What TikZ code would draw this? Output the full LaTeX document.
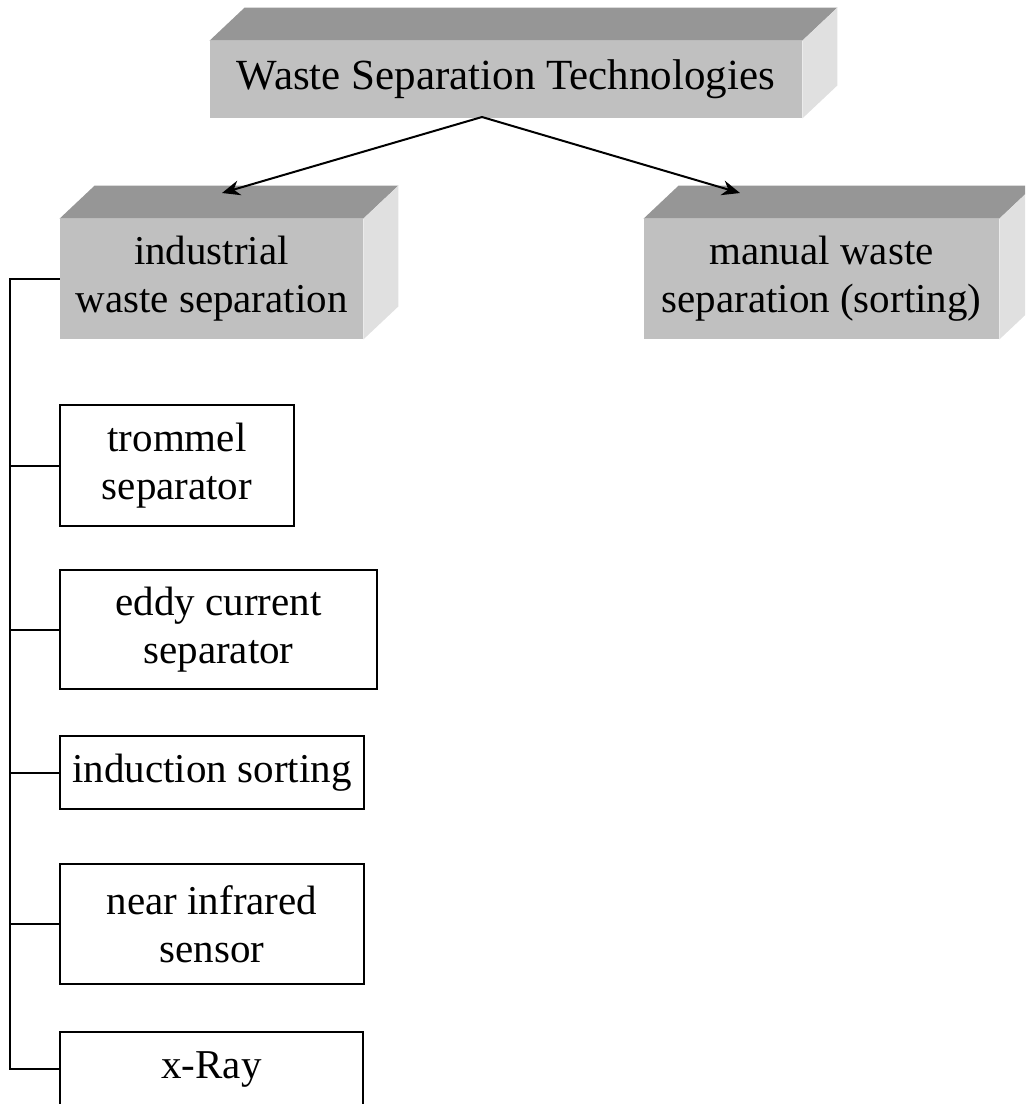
\documentclass[tikz,border=0pt]{standalone}
\usepackage{fontspec}
\setmainfont{Liberation Serif}
\usetikzlibrary{arrows.meta,calc}

\definecolor{frontgray}{HTML}{C0C0C0}
\definecolor{topgray}{HTML}{969696}
\definecolor{sidegray}{HTML}{E0E0E0}

\tikzset{
  label font/.style={font=\fontsize{20.5pt}{24pt}\selectfont, align=center},
  blockface/.style={label font, fill=frontgray, inner sep=0pt},
  leafbox/.style={label font, draw=black, line width=1pt, inner sep=0pt},
  link/.style={line width=1pt},
  pointer/.style={line width=1pt, -{Stealth[length=9pt,width=7.5pt]}}
}

% draws the top and right faces of a raised block
\newcommand{\blockdepth}[1]{%
  \fill[topgray] (#1.north west) -- ++(35,-33) -- ($(#1.north east)+(35,-33)$) -- (#1.north east) -- cycle;
  \fill[sidegray] (#1.north east) -- ++(35,-33) -- ($(#1.south east)+(35,-33)$) -- (#1.south east) -- cycle;
}

\begin{document}
\begin{tikzpicture}[x=0.5pt, y=-0.5pt]
  \useasboundingbox (0,0) rectangle (1025,1104);
  \clip (0,0) rectangle (1025,1104);

  % raised blocks
  \node[blockface, font=\fontsize{21.5pt}{25pt}\selectfont, minimum width=296pt, minimum height=38.5pt] (root) at (506,79.5) {Waste Separation Technologies};
  \blockdepth{root}
  \node[blockface, minimum width=151.5pt, minimum height=60pt] (industrial) at (211.5,279) {industrial\\waste separation};
  \blockdepth{industrial}
  \node[blockface, minimum width=177.5pt, minimum height=60pt] (manual) at (821.5,279) {manual waste\\separation (sorting)};
  \blockdepth{manual}

  % industrial methods
  \node[leafbox, minimum width=117pt, minimum height=60.5pt] (trommel) at (177,465.5) {trommel\\separator};
  \node[leafbox, minimum width=158.5pt, minimum height=59.5pt] (eddy) at (218.5,629.5) {eddy current\\separator};
  \node[leafbox, minimum width=152pt, minimum height=36.5pt] (induction) at (212,772.5) {induction sorting};
  \node[leafbox, minimum width=152pt, minimum height=60pt] (nir) at (212,924) {near infrared\\sensor};
  \node[leafbox, minimum width=151.5pt, minimum height=37pt] (xray) at (211.5,1069) {x-Ray};

  % arrows from the root block
  \coordinate (split) at (482,117);
  \coordinate (industrialtip) at (222,193);
  \coordinate (manualtip) at (740,193);
  \draw[pointer] (split) -- (industrialtip);
  \draw[pointer] (split) -- (manualtip);

  % tree rail
  \coordinate (rail) at (10,279);
  \draw[link] (industrial.west) -- (rail) |- (xray.west);
  \foreach \leaf in {trommel, eddy, induction, nir}
    \draw[link] (\leaf.west) -- (rail |- \leaf.west);
\end{tikzpicture}
\end{document}
